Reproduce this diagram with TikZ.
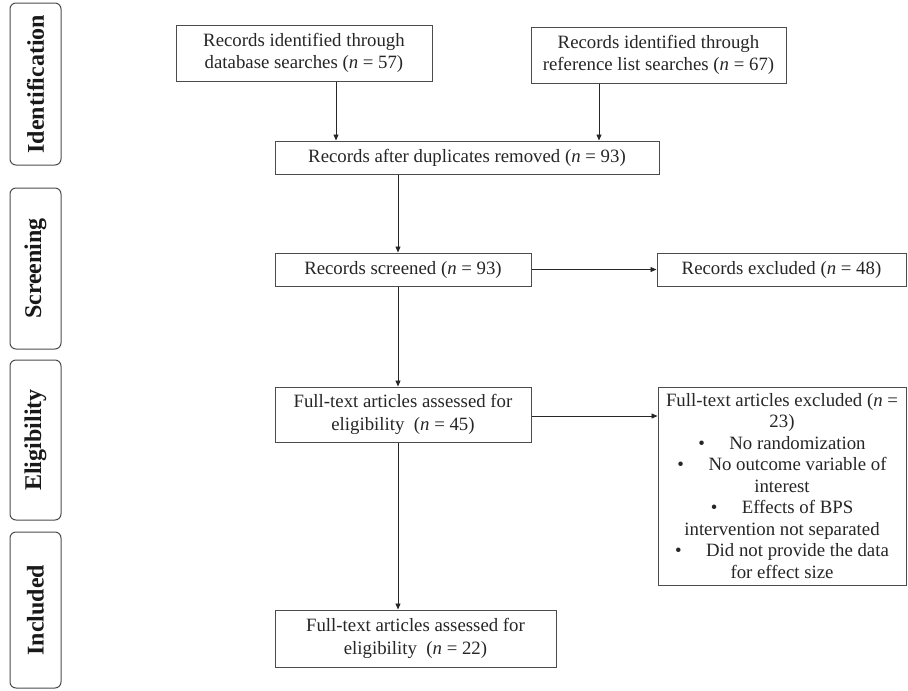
\documentclass[tikz,border=0pt]{standalone}
\usepackage{fontspec}
\setmainfont{Liberation Serif}
\usetikzlibrary{arrows.meta}
\begin{document}
\tikzset{
  box/.style={draw=black!70, line width=1pt, fill=white, inner sep=0pt, align=center,
    text=black!85, font=\fontsize{18.8}{22.5}\selectfont},
  lab/.style={draw=black!70, line width=1pt, rounded corners=6pt, rotate=90, inner sep=0pt,
    font=\fontsize{24}{28}\selectfont\bfseries, text=black!90, minimum height=51pt},
  arr/.style={draw=black!85, line width=0.9pt, -{Triangle[length=6pt,width=5pt]}},
}
\begin{tikzpicture}[x=1pt,y=-1pt]
\useasboundingbox (0,0) rectangle (908,691);
% stage labels
\node[lab, minimum width=162pt] (lid) at (35.5,84) {Identification};
\node[lab, minimum width=161pt] (lsc) at (35.5,268.5) {Screening};
\node[lab, minimum width=160pt] (lel) at (35.5,440) {Eligibility};
\node[lab, minimum width=156pt] (lin) at (35.5,610) {Included};
% boxes
\node[box, minimum width=256pt, minimum height=56pt] (b1) at (304,53)
  {Records identified through\\database searches (\textit{n} = 57)};
\node[box, minimum width=255pt, minimum height=56pt] (b2) at (658.5,55)
  {Records identified through\\reference list searches (\textit{n} = 67)};
\node[box, minimum width=384pt, minimum height=33pt] (b3) at (467,157.5)
  {Records after duplicates removed (\textit{n} = 93)};
\node[box, minimum width=256pt, minimum height=33pt] (sc) at (403,269.5)
  {Records screened (\textit{n} = 93)};
\node[box, minimum width=249pt, minimum height=33pt] (ex1) at (781.5,269.5)
  {Records excluded (\textit{n} = 48)};
\node[box, minimum width=256pt, minimum height=55pt] (ft) at (403,414.5)
  {Full-text articles assessed for\\eligibility \ (\textit{n} = 45)};
\node[box, minimum width=248pt, minimum height=198pt, font=\fontsize{18.8}{21.5}\selectfont] (ex2) at (782,486)
  {Full-text articles excluded (\textit{n} =\\23)\\
   \textbullet\hspace{1.3em}No randomization\\
   \textbullet\hspace{1.3em}No outcome variable of\\
   interest\\
   \textbullet\hspace{1.3em}Effects of BPS\\
   intervention not separated\\
   \textbullet\hspace{1.3em}Did not provide the data\\
   for effect size};
\node[box, minimum width=281pt, minimum height=57pt] (fin) at (415.5,638.5)
  {Full-text articles assessed for\\eligibility \ (\textit{n} = 22)};
% connectors
\draw[arr] ([xshift=32pt]b1.south) -- ([xshift=32pt]b1.south |- b3.north);
\draw[arr] ([xshift=-59.5pt]b2.south) -- ([xshift=-59.5pt]b2.south |- b3.north);
\draw[arr] ([xshift=-5pt]sc.north |- b3.south) -- ([xshift=-5pt]sc.north);
\draw[arr] ([xshift=-5pt]sc.south) -- ([xshift=-5pt]ft.north);
\draw[arr] ([xshift=-5pt]ft.south) -- ([xshift=-5pt]ft.south |- fin.north);
\draw[arr] (sc.east) -- (sc.east -| ex1.west);
\draw[arr] ([yshift=-1.5pt]ft.east) -- ([yshift=-1.5pt]ft.east -| ex2.west);
\end{tikzpicture}
\end{document}
